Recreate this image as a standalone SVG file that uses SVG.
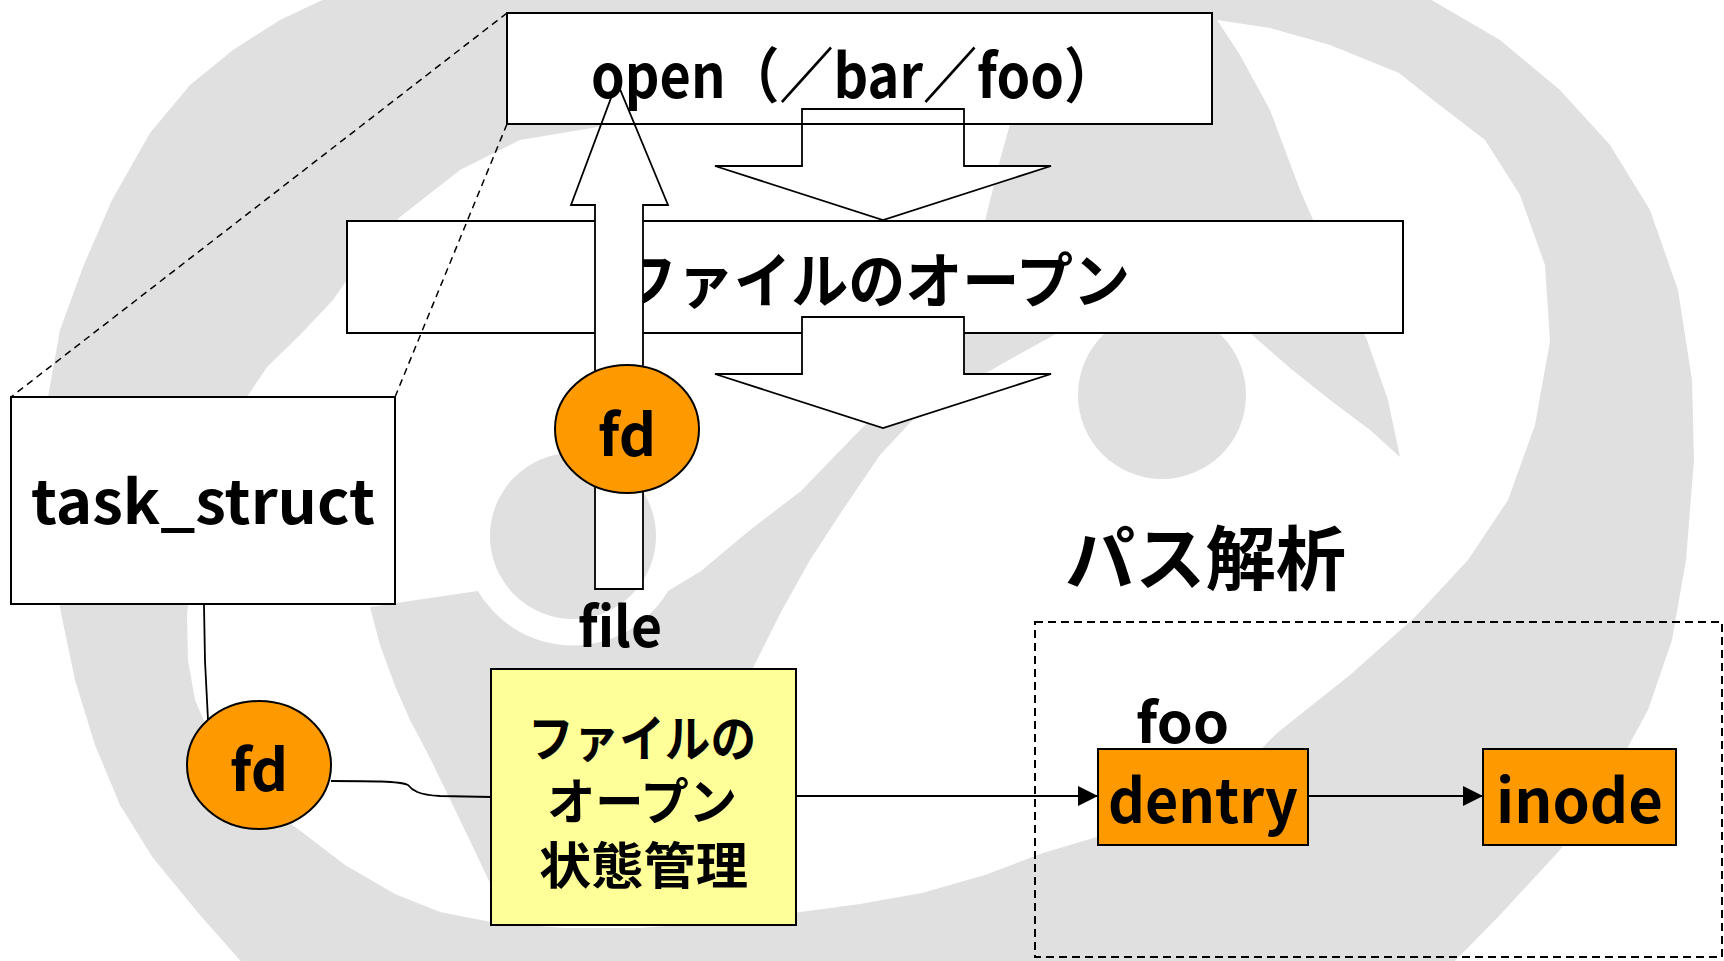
<svg xmlns="http://www.w3.org/2000/svg" width="1724" height="961" viewBox="0 0 1724 961">
<style>
.bg{fill:#e0e0e0}
.box{fill:#fff;stroke:#000;stroke-width:2}
.yel{fill:#ffff99;stroke:#000;stroke-width:2}
.org{fill:#ff9900;stroke:#000;stroke-width:2}
.blk{fill:#fff;stroke:#000;stroke-width:1.8;stroke-linejoin:miter}
.t{font-family:"Noto Sans CJK JP","Noto Sans",sans-serif;font-weight:bold;fill:#000}
.ln{fill:none;stroke:#000;stroke-width:1.8}
.dash{fill:none;stroke:#000;stroke-width:1.5;stroke-dasharray:7 5}
</style>
<defs>
<marker id="ah" markerWidth="20" markerHeight="20" refX="20" refY="10" orient="auto" markerUnits="userSpaceOnUse">
<path d="M0,0 L20,10 L0,20 Z" fill="#000"/>
</marker>
</defs>
<rect width="1724" height="961" fill="#fff"/>
<g id="background">
<path class="bg" fill-rule="evenodd" d="M333,-5 L1423,-5 L1500,40 L1560,90 L1610,145 L1650,210 L1678,290 L1692,380 L1694,460 L1686,560 L1672,640 L1648,710 L1610,780 L1560,850 L1500,915 L1450,966 L245,966 L200,915 L153,858 L120,805 L95,745 L75,680 L61,613 L50,540 L45,470 L48,397 L60,330 L83,267 L112,200 L150,133 L190,85 L233,50 L280,20 Z
M520,140 L460,170 L400,217 L362,258 L333,300 L300,335 L267,367 L247,397 L225,450 L205,510 L192,565 L187,615 L188,660 L195,700 L213,742 L240,780 L268,808 L298,829 L345,865 L395,894 L440,912 L491,922 L565,928 L640,928 L720,922 L793,913 L860,904 L922,893 L985,875 L1043,853 L1120,830 L1191,805 L1240,770 L1277,733 L1350,675 L1415,617 L1468,560 L1508,500 L1535,425 L1550,341 L1545,265 L1520,195 L1485,140 L1433,100 L1399,73 L1330,45 L1270,28 L1217,20 L1100,60 L900,95 L700,110 Z"/>
<path class="bg" d="M1217,20 L1240,55 L1270,110 L1300,190 L1335,270 L1367,340 L1388,400 L1400,457 L1370,430 L1330,400 L1290,368 L1250,333 L1250,320 L1070,320 L1063,330 L1000,365 L922,410 L880,455 L842,511 L810,560 L781,612 L753,668 L720,740 L650,800 L560,850 L491,885 L460,820 L430,758 L410,720 L395,686 L380,645 L370,607 L430,598 L478,591 A110,110 0 0 0 668,591 L701,571 L750,530 L801,491 L860,430 L922,370 L960,300 L985,221 L1000,160 L1010,124 L1010,10 L1217,10 Z"/>
<circle class="bg" cx="1162" cy="395" r="84"/>
<circle class="bg" cx="573" cy="536" r="83"/>
<rect x="507" y="13" width="705" height="111" fill="#fff"/>
</g>
<g id="node-open-file">
<rect class="box" x="347" y="221" width="1056" height="112"/>
<text class="t" x="620" y="303" font-size="60" textLength="510" lengthAdjust="spacingAndGlyphs">ファイルのオープン</text>
</g>
<g id="connectors">
<path class="dash" d="M507,13 L11,397"/>
<path class="dash" d="M507,124 L395,397"/>
<path class="blk" d="M802,109 L964,109 L964,166 L1051,166 L883,220 L715,166 L802,166 Z"/>
<path class="blk" d="M802,317 L964,317 L964,374 L1051,374 L883,428 L715,374 L802,374 Z"/>
<path class="blk" d="M595,589 L595,205 L571,205 L617,82 L668,205 L643,205 L643,589 Z"/>
<path class="ln" d="M204,605 L205,661 L208,720"/>
<path class="ln" d="M331,781 C370,781 400,781 408,785 C412,790 418,795 440,796 L491,797"/>
<path class="ln" d="M796,796 L1098,796" marker-end="url(#ah)"/>
<path class="ln" d="M1308,796 L1483,796" marker-end="url(#ah)"/>
</g>
<g id="node-open">
<rect x="507" y="13" width="705" height="111" fill="none" stroke="#000" stroke-width="2"/>
<text class="t" x="591" y="98" font-size="60" textLength="527" lengthAdjust="spacingAndGlyphs">open（／bar／foo）</text>
</g>
<g id="node-fd-top">
<ellipse class="org" cx="627" cy="429" rx="72" ry="64"/>
<text class="t" x="627" y="456" font-size="58" text-anchor="middle">fd</text>
</g>
<g id="node-task-struct">
<rect class="box" x="11" y="397" width="384" height="207"/>
<text class="t" x="31" y="524" font-size="60" textLength="344" lengthAdjust="spacingAndGlyphs">task_struct</text>
</g>
<g id="node-fd-bottom">
<ellipse class="org" cx="259" cy="765" rx="72" ry="64"/>
<text class="t" x="259" y="791" font-size="58" text-anchor="middle">fd</text>
</g>
<g id="label-file">
<text class="t" x="578" y="647" font-size="56" textLength="84" lengthAdjust="spacingAndGlyphs">file</text>
</g>
<g id="node-file-state">
<rect class="yel" x="491" y="669" width="305" height="256"/>
<text class="t" x="528" y="757" font-size="50" textLength="228" lengthAdjust="spacingAndGlyphs">ファイルの</text>
<text class="t" x="547" y="820" font-size="50" textLength="190" lengthAdjust="spacingAndGlyphs">オープン</text>
<text class="t" x="539" y="884" font-size="50" textLength="209" lengthAdjust="spacingAndGlyphs">状態管理</text>
</g>
<g id="group-path-analysis">
<text class="t" x="1065" y="585" font-size="70" textLength="281" lengthAdjust="spacingAndGlyphs">パス解析</text>
<rect x="1035" y="622" width="687" height="335" fill="none" stroke="#000" stroke-width="2" stroke-dasharray="8 5"/>
</g>
<g id="label-foo">
<text class="t" x="1136" y="743" font-size="56" textLength="93" lengthAdjust="spacingAndGlyphs">foo</text>
</g>
<g id="node-dentry">
<rect class="org" x="1098" y="749" width="210" height="96"/>
<text class="t" x="1108" y="823" font-size="60" textLength="190" lengthAdjust="spacingAndGlyphs">dentry</text>
</g>
<g id="node-inode">
<rect class="org" x="1483" y="749" width="193" height="96"/>
<text class="t" x="1496" y="823" font-size="60" textLength="167" lengthAdjust="spacingAndGlyphs">inode</text>
</g>
</svg>
